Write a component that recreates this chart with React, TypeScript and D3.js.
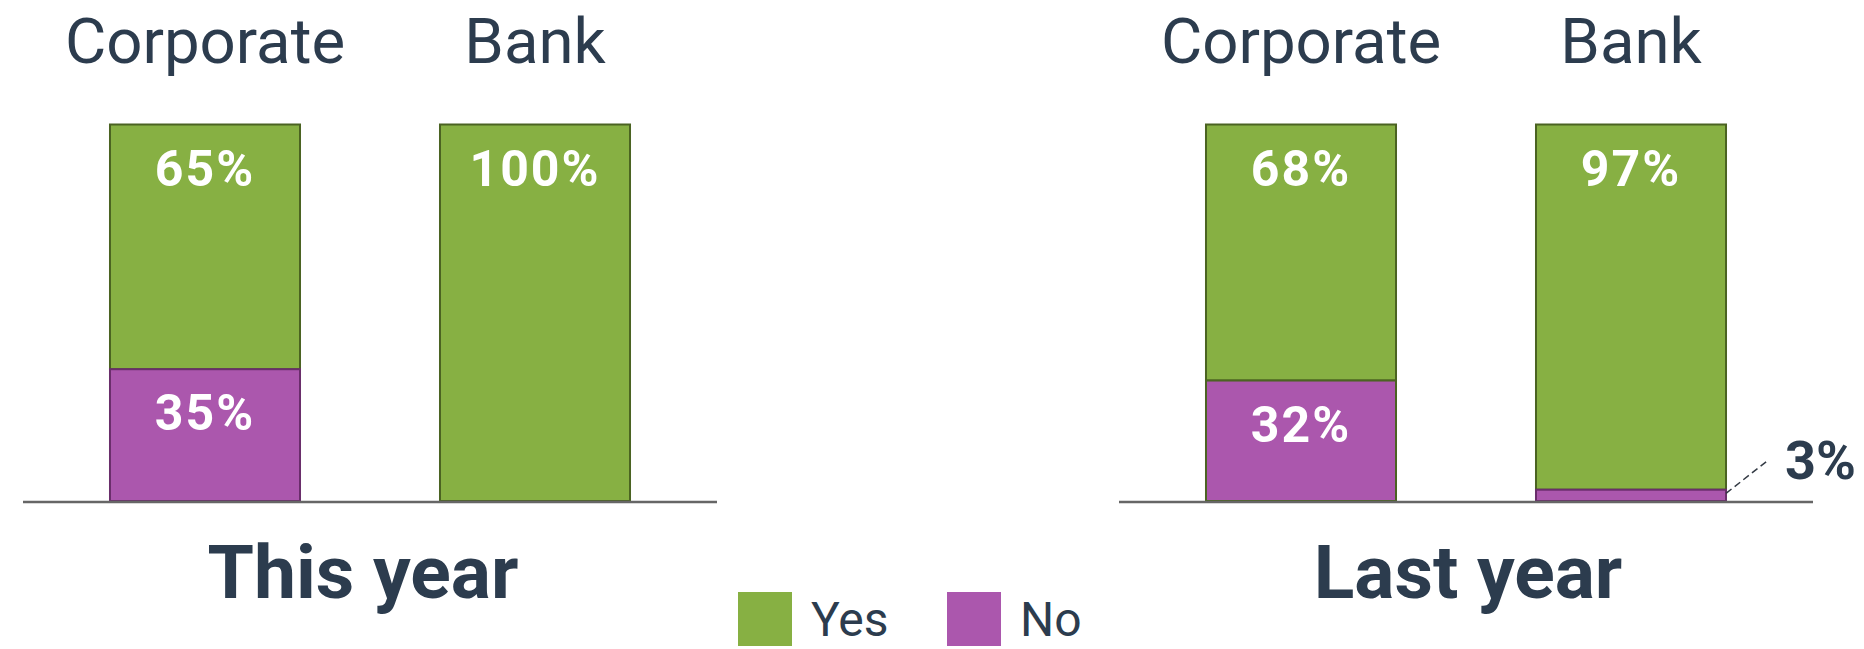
import React from "react";
import * as d3 from "d3";

// ---- data ----
const categories = ["Corporate", "Bank"];
const panelTitles = ["This year", "Last year"];
const seriesNames = ["Yes", "No"];
const yesThisYear = [65, 100];
const noThisYear = [35, 0];
const yesLastYear = [68, 97];
const noLastYear = [32, 3];

// ---- styles ----
const W = 1864;
const H = 649;
const GREEN = "#87b043";
const GREEN_STROKE = "#4b6322";
const PURPLE = "#ab57ad";
const PURPLE_STROKE = "#6a2e6b";
const TEXT = "#2c3c4e";
const FONT = "Roboto, 'Noto Sans', sans-serif";

const panels = [
  { title: panelTitles[0], yes: yesThisYear, no: noThisYear, x0: 23, x1: 717, titleX: 363, noStroke: [PURPLE_STROKE, PURPLE_STROKE] },
  { title: panelTitles[1], yes: yesLastYear, no: noLastYear, x0: 1119, x1: 1813, titleX: 1468, noStroke: [GREEN_STROKE, PURPLE_STROKE] },
];

const y = d3.scaleLinear().domain([0, 100]).range([501, 124.5]);
const AXIS_Y = 502;

function Panel({ p }: { p: (typeof panels)[number] }) {
  const x = d3
    .scaleBand<string>()
    .domain(categories)
    .range([p.x0, p.x1])
    .paddingInner(0.4242)
    .paddingOuter(0.2636);
  const bw = x.bandwidth();
  return (
    <g>
      {categories.map((c, i) => {
        const bx = x(c)!;
        const cx = bx + bw / 2;
        const noV = p.no[i];
        const yesV = p.yes[i];
        const noTop = y(noV);
        const yesTop = y(noV + yesV);
        return (
          <g key={c}>
            <text
              x={cx}
              y={63}
              textAnchor="middle"
              fontFamily={FONT}
              fontSize={63.5}
              fill={TEXT}
            >
              {c}
            </text>
            {yesV > 0 && (
              <rect
                x={bx}
                y={yesTop}
                width={bw}
                height={noTop - yesTop}
                fill={GREEN}
                stroke={GREEN_STROKE}
                strokeWidth={2}
              />
            )}
            {noV > 0 && (
              <rect
                x={bx}
                y={noTop}
                width={bw}
                height={y(0) - noTop}
                fill={PURPLE}
                stroke={p.noStroke[i]}
                strokeWidth={2}
              />
            )}
            {yesV > 0 && (
              <text
                x={cx}
                y={yesTop + 61}
                textAnchor="middle"
                fontFamily={FONT}
                fontWeight={700}
                fontSize={50}
                letterSpacing={2}
                fill="#ffffff"
              >
                {yesV}%
              </text>
            )}
            {noV >= 10 && (
              <text
                x={cx}
                y={noTop + 61}
                textAnchor="middle"
                fontFamily={FONT}
                fontWeight={700}
                fontSize={50}
                letterSpacing={2}
                fill="#ffffff"
              >
                {noV}%
              </text>
            )}
            {noV > 0 && noV < 10 && (
              <g>
                <line
                  x1={bx + bw}
                  y1={(noTop + y(0)) / 2 - 2}
                  x2={bx + bw + 42}
                  y2={(noTop + y(0)) / 2 - 35}
                  stroke="#333a44"
                  strokeWidth={1.5}
                  strokeDasharray="7,4"
                />
                <text
                  x={bx + bw + 59}
                  y={479}
                  textAnchor="start"
                  fontFamily={FONT}
                  fontWeight={700}
                  fontSize={54}
                  fill={TEXT}
                >
                  {noV}%
                </text>
              </g>
            )}
          </g>
        );
      })}
      <line x1={p.x0} x2={p.x1} y1={AXIS_Y} y2={AXIS_Y} stroke="#666666" strokeWidth={2.5} />
      <text
        x={p.titleX}
        y={598}
        textAnchor="middle"
        fontFamily={FONT}
        fontWeight={700}
        fontSize={75}
        fill={TEXT}
      >
        {p.title}
      </text>
    </g>
  );
}

export default function App() {
  const legend = [
    { name: seriesNames[0], color: GREEN, x: 738 },
    { name: seriesNames[1], color: PURPLE, x: 947 },
  ];
  return (
    <svg
      width={W}
      height={H}
      style={{ position: "absolute", left: 0, top: 0, background: "#ffffff" }}
    >
      {panels.map((p) => (
        <Panel key={p.title} p={p} />
      ))}
      {legend.map((l) => (
        <g key={l.name}>
          <rect x={l.x} y={592} width={54} height={54} fill={l.color} />
          <text x={l.x + 73} y={636} fontFamily={FONT} fontSize={48} fill={TEXT}>
            {l.name}
          </text>
        </g>
      ))}
    </svg>
  );
}
